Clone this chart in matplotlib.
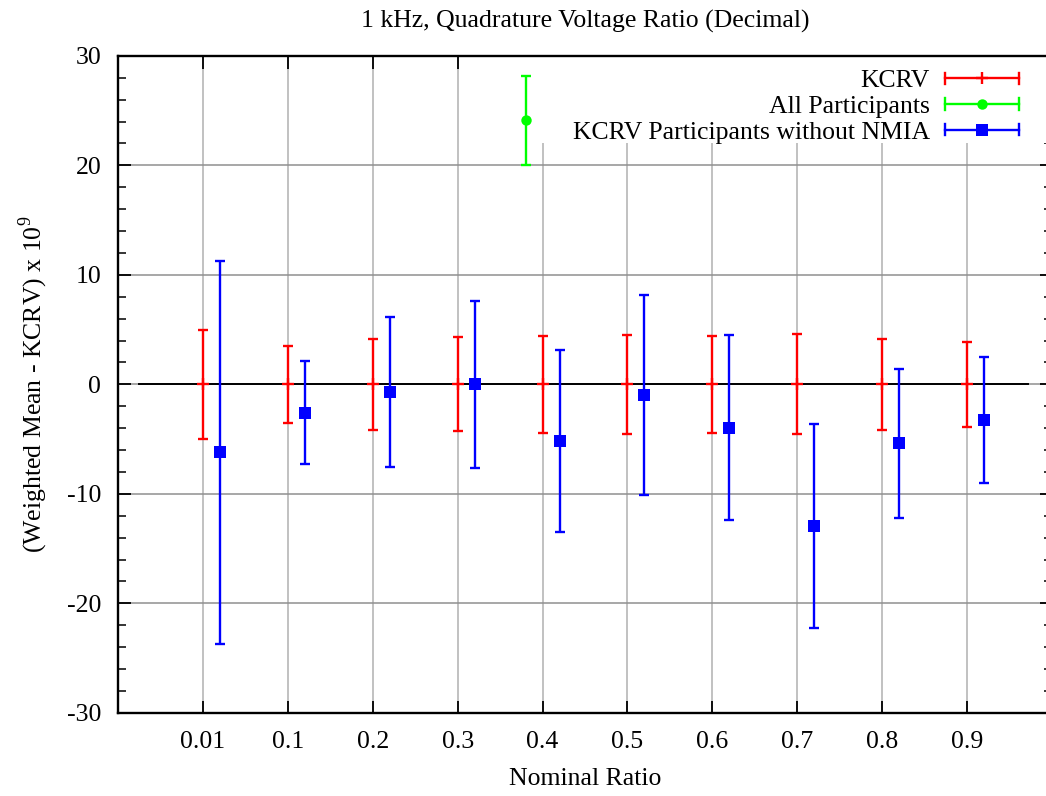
import numpy as np
import matplotlib
matplotlib.use('Agg')
import matplotlib.pyplot as plt
from matplotlib.legend_handler import HandlerBase
from matplotlib.container import ErrorbarContainer
from matplotlib.lines import Line2D
from matplotlib.patches import Rectangle
from matplotlib.ticker import MultipleLocator

plt.rcParams['font.family'] = ['Liberation Serif', 'DejaVu Serif']
plt.rcParams['mathtext.fontset'] = 'custom'
plt.rcParams['mathtext.rm'] = 'Liberation Serif'
plt.rcParams['axes.unicode_minus'] = False

# ---------------- data ----------------
ratios = ['0.01', '0.1', '0.2', '0.3', '0.4', '0.5', '0.6', '0.7', '0.8', '0.9']
kcrv_val = [0, 0, 0, 0, 0, 0, 0, 0, 0, 0]
kcrv_unc = [5.0, 3.5, 4.15, 4.3, 4.45, 4.53, 4.45, 4.55, 4.13, 3.87]
nonmia_val = [-6.2, -2.6, -0.7, 0.0, -5.2, -0.95, -3.95, -12.95, -5.4, -3.25]
nonmia_unc = [17.5, 4.7, 6.85, 7.6, 8.3, 9.15, 8.45, 9.3, 6.8, 5.78]
# only one "All Participants" point falls inside the y range (at 0.4)
allp_ratio = ['0.4']
allp_val = [24.1]
allp_unc = [4.1]

FS = 18.5
LW = 1.7
W, H = 1046, 796
fig = plt.figure(figsize=(W / 100, H / 100), dpi=100)
ax = fig.add_axes([118 / W, 83.2 / H, 934 / W, 657 / H])

pos = np.arange(1, len(ratios) + 1)
off = 0.2
allp_pos = np.array([ratios.index(r) + 1 for r in allp_ratio]) - off

# zero reference line
ax.plot([0.25, 10.72], [0, 0], color='black', lw=1.4, zorder=2)

ekw = dict(linestyle='none', elinewidth=LW, capsize=3.9, capthick=LW, zorder=4)
h_kcrv = ax.errorbar(pos, kcrv_val, yerr=kcrv_unc, color='#ff0000', marker='+',
                     markersize=8, label='KCRV', **ekw)
h_all = ax.errorbar(allp_pos, allp_val, yerr=allp_unc, color='#00ff00', marker='o',
                    markersize=7.5, label='All Participants', **ekw)
h_nm = ax.errorbar(pos + off, nonmia_val, yerr=nonmia_unc, color='#0000ff', marker='s',
                   markersize=8, label='KCRV Participants without NMIA', **ekw)
h_kcrv.lines[0].set_markeredgewidth(LW)
h_all.lines[0].set_markeredgewidth(0)
h_nm.lines[0].set_markeredgewidth(0)

ax.set_xlim(0, 11)
ax.set_ylim(-30, 30)
ax.set_xticks(pos)
ax.set_xticklabels(ratios)
ax.yaxis.set_major_locator(MultipleLocator(10))
ax.yaxis.set_minor_locator(MultipleLocator(2))
ax.tick_params(axis='both', which='both', direction='in', top=True, right=True,
               labelsize=FS, color='black')
ax.tick_params(axis='both', which='major', length=9, width=1.3)
ax.tick_params(axis='y', which='minor', length=5.5, width=1.1)
ax.tick_params(axis='y', which='major', pad=12)
ax.tick_params(axis='x', which='major', pad=13)
for s in ax.spines.values():
    s.set_linewidth(1.7)

ax.grid(True, which='major', axis='x', color='#b0b0b0', lw=1.1, zorder=0)
ax.grid(True, which='major', axis='y', color='#909090', lw=1.1, zorder=0)
ax.set_axisbelow(True)

# white key box (gnuplot draws its key over the grid)
ax.add_patch(Rectangle((412 / 934, (712.8 - 143) / 657), 1 - 412 / 934, 1, transform=ax.transAxes,
                       facecolor='white', edgecolor='none', zorder=1, clip_on=True))

ax.set_title('1 kHz, Quadrature Voltage Ratio (Decimal)', fontsize=FS, pad=20)
ax.set_xlabel('Nominal Ratio', fontsize=FS, labelpad=11)
ax.set_ylabel(r'(Weighted Mean - KCRV) x 10$^9$', fontsize=FS, labelpad=12)


class HandlerHErr(HandlerBase):
    # gnuplot style key sample: horizontal bar with end caps and the point in the middle
    def create_artists(self, legend, orig_handle, xdescent, ydescent, width, height, fontsize, trans):
        ln = orig_handle.lines[0]
        col = ln.get_color()
        y = height / 2.0 - ydescent
        x0 = -xdescent
        x1 = width - xdescent
        cap = 4.0
        arts = [Line2D([x0, x1], [y, y], color=col, lw=LW),
                Line2D([x0, x0], [y - cap, y + cap], color=col, lw=LW),
                Line2D([x1, x1], [y - cap, y + cap], color=col, lw=LW),
                Line2D([(x0 + x1) / 2.0], [y], color=col, linestyle='none', marker=ln.get_marker(),
                       markersize=ln.get_markersize(), mew=ln.get_markeredgewidth())]
        for a in arts:
            a.set_transform(trans)
        return arts


# key sample 74 px long
hlen = 74 / (FS / 72 * 100)
leg = ax.legend(handles=[h_kcrv, h_all, h_nm], handler_map={ErrorbarContainer: HandlerHErr()},
                loc='upper right', bbox_to_anchor=(0.973, 0.991), borderaxespad=0,
                fontsize=FS, markerfirst=False, handlelength=hlen,
                handletextpad=0.6, labelspacing=0.1, borderpad=0.3, frameon=False)
leg.set_zorder(5)

fig.savefig('out.png', dpi=100)
